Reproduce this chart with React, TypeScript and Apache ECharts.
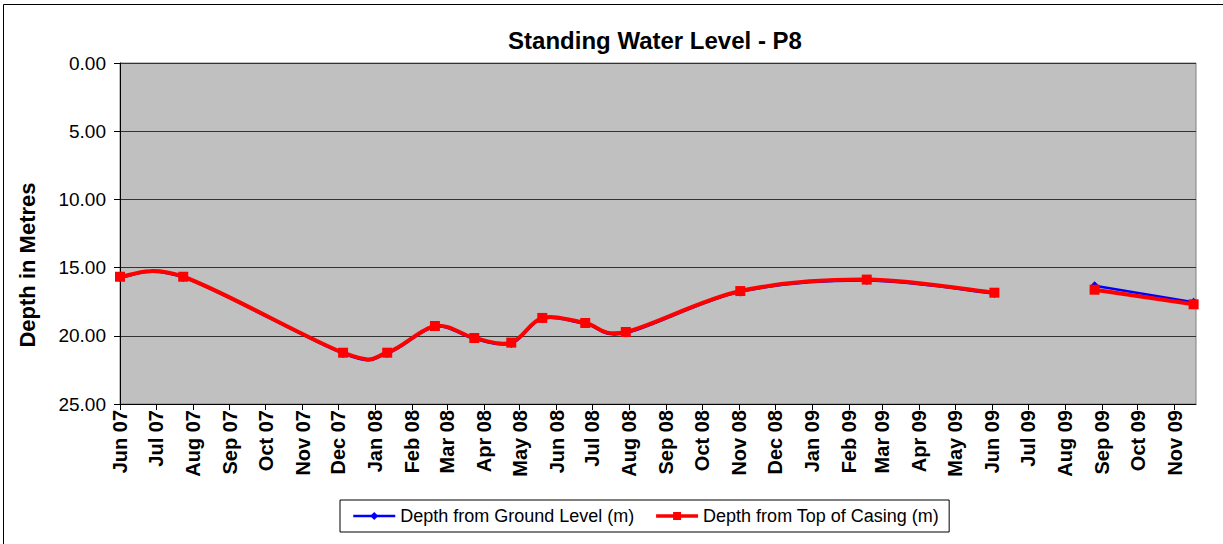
import React, { useEffect, useRef } from "react";
import * as echarts from "echarts";

const titleText = "Standing Water Level - P8";
const yAxisTitle = "Depth in Metres";
const seriesNames = ["Depth from Ground Level (m)", "Depth from Top of Casing (m)"];
const monthNames = ["Jan", "Feb", "Mar", "Apr", "May", "Jun", "Jul", "Aug", "Sep", "Oct", "Nov", "Dec"];

// Sample dates (the null entry marks the gap in the record)
const dates = [
  "2007-06-01", "2007-07-24", "2007-12-05", "2008-01-11", "2008-02-20",
  "2008-03-24", "2008-04-24", "2008-05-20", "2008-06-25", "2008-07-29",
  "2008-11-02", "2009-02-16", "2009-06-03", "2009-07-20", "2009-08-26",
  "2009-11-17",
];
const groundLevel = [
  15.72, 15.72, 21.3, 21.3, 19.34, 20.22, 20.56, 18.75, 19.12, 19.8,
  16.78, 15.95, 16.9, null, 16.33, 17.54,
];
const topOfCasing = [
  15.67, 15.67, 21.24, 21.24, 19.28, 20.16, 20.5, 18.69, 19.06, 19.72,
  16.72, 15.88, 16.84, null, 16.62, 17.69,
];

const axisMin = "2007-06-01";
const axisMax = "2009-11-19";
const firstTickYear = 2007;
const firstTickMonth = 5; // June
const tickCount = 30;

const FONT = "'Liberation Sans', Arial, sans-serif";
const BLUE = "#0000ff";
const RED = "#ff0000";

function parse(s: string) {
  const [y, m, d] = s.split("-").map(Number);
  return new Date(y, m - 1, d).getTime();
}

// Excel-style smoothed segment (Catmull-Rom as cubic Bezier) drawn through the axis scales
function makeCurveRenderer(values: (number | null)[], color: string, width: number) {
  const xs = dates.map(parse);
  return (params: any, api: any) => {
    const i = params.dataIndex;
    const n = values.length;
    if (i >= n - 1 || values[i] == null || values[i + 1] == null) return null;
    const ok = (k: number) => k >= 0 && k < n && values[k] != null;
    const p = (k: number) => api.coord([xs[k], values[k]]);
    const p1 = p(i);
    const p2 = p(i + 1);
    const p0 = ok(i - 1) ? p(i - 1) : p1;
    const p3 = ok(i + 2) ? p(i + 2) : p2;
    return {
      type: "bezierCurve",
      shape: {
        x1: p1[0],
        y1: p1[1],
        x2: p2[0],
        y2: p2[1],
        cpx1: p1[0] + (p2[0] - p0[0]) / 6,
        cpy1: p1[1] + (p2[1] - p0[1]) / 6,
        cpx2: p2[0] - (p3[0] - p1[0]) / 6,
        cpy2: p2[1] - (p3[1] - p1[1]) / 6,
      },
      style: { stroke: color, lineWidth: width, fill: "none", lineJoin: "round", lineCap: "round" },
      silent: true,
    };
  };
}

export default function App() {
  const ref = useRef<HTMLDivElement>(null);
  useEffect(() => {
    if (!ref.current) return;
    const chart = echarts.init(ref.current, null, { renderer: "svg" });
    const monthTicks: number[] = [];
    for (let i = 0; i < tickCount; i++) {
      monthTicks.push(new Date(firstTickYear, firstTickMonth + i, 1).getTime());
    }
    const blueData = dates.map((d, i) => [parse(d), groundLevel[i]]);
    const redData = dates.map((d, i) => [parse(d), topOfCasing[i]]);

    chart.setOption({
      animation: false,
      backgroundColor: "#ffffff",
      textStyle: { fontFamily: FONT },
      title: {
        text: titleText,
        left: 650,
        top: 23,
        textAlign: "center",
        textStyle: { fontFamily: FONT, fontSize: 24, fontWeight: "bold", color: "#000" },
      },
      graphic: [
        {
          type: "rect",
          shape: { x: 3.5, y: 4.5, width: 1240, height: 600 },
          style: { fill: "none", stroke: "#000", lineWidth: 1 },
          silent: true,
        },
        {
          type: "text",
          x: 27,
          y: 265,
          rotation: Math.PI / 2,
          style: {
            text: yAxisTitle,
            fontFamily: FONT,
            fontSize: 22,
            fontWeight: "bold",
            fill: "#000",
            textAlign: "center",
            textVerticalAlign: "middle",
          },
        },
      ],
      legend: {
        left: 340,
        top: 500,
        orient: "horizontal",
        borderColor: "#000",
        borderWidth: 1,
        padding: [7, 10, 7, 12],
        itemGap: 20,
        itemWidth: 42,
        itemHeight: 10,
        textStyle: { fontFamily: FONT, fontSize: 18, color: "#000" },
        data: [
          {
            name: seriesNames[0],
            lineStyle: { color: BLUE, width: 2.5, opacity: 1 },
            itemStyle: { color: BLUE },
          },
          {
            name: seriesNames[1],
            lineStyle: { color: RED, width: 3.5, opacity: 1 },
            itemStyle: { color: RED },
          },
        ],
      },
      grid: {
        left: 120,
        right: 27,
        top: 63,
        bottom: 140,
        show: true,
        backgroundColor: "#c0c0c0",
        borderColor: "#808080",
        borderWidth: 1,
      },
      xAxis: {
        type: "value",
        min: parse(axisMin),
        max: parse(axisMax),
        axisLine: { show: true, onZero: false, lineStyle: { color: "#000", width: 1 } },
        axisTick: {
          show: true,
          customValues: monthTicks,
          length: 6,
          lineStyle: { color: "#000" },
        },
        axisLabel: {
          customValues: monthTicks,
          rotate: 90,
          margin: 6,
          fontFamily: FONT,
          fontSize: 20,
          fontWeight: "bold",
          color: "#000",
          formatter: (v: number) => {
            const d = new Date(v);
            const yy = String(d.getFullYear() % 100).padStart(2, "0");
            return monthNames[d.getMonth()] + " " + yy;
          },
        },
        splitLine: { show: false },
      },
      yAxis: {
        type: "value",
        inverse: true,
        min: 0,
        max: 25,
        interval: 5,
        axisLine: { show: true, lineStyle: { color: "#000", width: 1 } },
        axisTick: { show: true, length: 6, lineStyle: { color: "#000" } },
        axisLabel: {
          margin: 14,
          fontFamily: FONT,
          fontSize: 19,
          color: "#000",
          formatter: (v: number) => v.toFixed(2),
        },
        splitLine: { show: true, lineStyle: { color: "#333", width: 1 } },
      },
      series: [
        {
          name: "ground-curve",
          type: "custom",
          data: blueData,
          encode: { x: 0, y: 1 },
          renderItem: makeCurveRenderer(groundLevel, BLUE, 2.5),
          z: 2,
          silent: true,
        },
        {
          name: seriesNames[0],
          type: "line",
          data: blueData,
          connectNulls: false,
          symbol: "diamond",
          symbolSize: 9,
          color: BLUE,
          lineStyle: { color: BLUE, width: 2.5, opacity: 0 },
          itemStyle: { color: BLUE },
          z: 3,
        },
        {
          name: "casing-curve",
          type: "custom",
          data: redData,
          encode: { x: 0, y: 1 },
          renderItem: makeCurveRenderer(topOfCasing, RED, 4),
          z: 4,
          silent: true,
        },
        {
          name: seriesNames[1],
          type: "line",
          data: redData,
          connectNulls: false,
          symbol: "rect",
          symbolSize: 10,
          color: RED,
          lineStyle: { color: RED, width: 3.5, opacity: 0 },
          itemStyle: { color: RED },
          z: 5,
        },
      ],
    });
    return () => chart.dispose();
  }, []);
  return (
    <div
      ref={ref}
      style={{ position: "absolute", left: 0, top: 0, width: 1223, height: 544 }}
    />
  );
}
